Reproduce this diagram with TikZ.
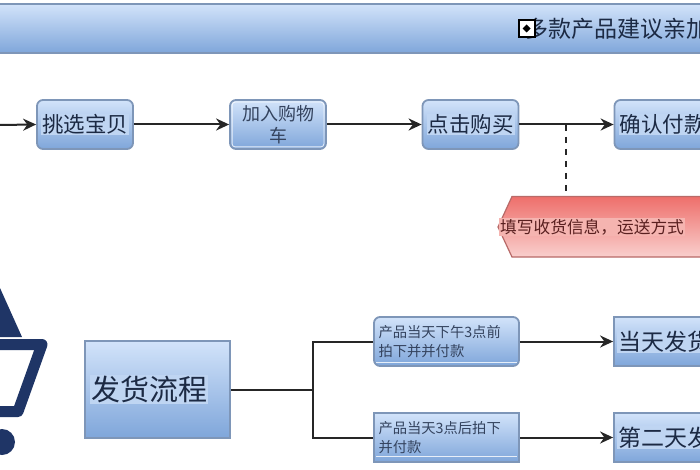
\documentclass[tikz,border=0pt]{standalone}
\usepackage{fontspec}
\setmainfont{Noto Sans CJK SC}
\usetikzlibrary{arrows.meta,calc}
\definecolor{edgeblue}{HTML}{7E96B8}
\definecolor{topblue}{HTML}{D2E3FA}
\definecolor{botblue}{HTML}{7FA6DA}
\definecolor{hlblue}{HTML}{BFD5F2}
\definecolor{inkblue}{HTML}{1C2A44}
\definecolor{softink}{HTML}{34435E}
\definecolor{navy}{HTML}{1F3566}
\definecolor{topred}{HTML}{EE6F6B}
\definecolor{botred}{HTML}{F9CFCD}
\definecolor{edgered}{HTML}{B86A68}
\definecolor{hlred}{HTML}{F5B4B0}
\definecolor{inkred}{HTML}{5A2020}
\newcommand{\hlb}[1]{{\setlength{\fboxsep}{1pt}\colorbox{hlblue}{#1}}}
\newcommand{\hlr}[1]{{\setlength{\fboxsep}{1pt}\colorbox{hlred}{#1}}}
\newcommand{\fsz}[1]{\fontsize{#1}{#1}\selectfont}
\tikzset{
  flowbox/.style={draw=edgeblue,line width=1.8pt,top color=topblue,bottom color=botblue,
    minimum width=96pt,minimum height=49pt,inner sep=0pt,align=center,text=inkblue},
  roundbox/.style={flowbox,rounded corners=6pt},
  smalltext/.style={text=softink,align=left,font=\fsz{14.3},text width=136pt},
  flowline/.style={line width=2pt,black!85},
  flowarrow/.style={flowline,-{Stealth[length=13pt,width=12pt]}},
  gloss/.style={white,line width=0.8pt,opacity=.8}
}
\begin{document}
\begin{tikzpicture}[x=1pt,y=-1pt]
\useasboundingbox (0,0) rectangle (700,470);
\clip (0,0) rectangle (700,470);
\fill[white] (0,0) rectangle (700,470);
% title band
\draw[draw=edgeblue,line width=1.6pt,top color=topblue,bottom color=botblue]
  (-5,4) rectangle (705,53);
\node[anchor=west,inner sep=0pt,text=inkblue,font=\fsz{23}] (title) at (525,29) {多款产品建议亲加};
% small icon in the title
\draw[black,line width=2pt,fill=white] (518.5,20.5) rectangle (534.5,37);
\fill[black] (526.5,24.5) -- (530.5,28.5) -- (526.5,32.5) -- (522.5,28.5) -- cycle;
% top row
\coordinate (start) at (-2,125);
\node[roundbox,font=\fsz{21.5}] (pick) at (85,124.5) {\hlb{挑选宝贝}};
\node[roundbox,font=\fsz{18},text=softink] (cart) at (278,124.5) {加入购物\\[4pt]车};
\node[roundbox,font=\fsz{21.5}] (buy) at (470.5,124.5) {\hlb{点击购买}};
\node[roundbox,font=\fsz{21.5}] (pay) at (662.5,124.5) {\hlb{确认付款}};
\draw[gloss,rounded corners=3pt] ($(cart.south west)+(3,-3)$) rectangle ($(cart.north east)+(-3,3)$);
\draw[flowarrow] (start) -- (pick.west);
\draw[flowarrow] (pick.east) -- (cart.west);
\draw[flowarrow] (cart.east) -- (buy.west);
\draw[flowarrow] (buy.east) -- (pay.west);
% note
\draw[draw=edgered,line width=1.2pt,top color=topred,bottom color=botred]
  (498,227) -- (512,196.5) -- (710,196.5) -- (710,257) -- (512,257) -- cycle;
\node[inner sep=0pt,text=inkred,font=\fsz{16.7},anchor=west] (note) at (499,227) {\hlr{填写收货信息，运送方式}};
\coordinate (dashtop) at (566,125);
\coordinate (dashend) at (566,192);
\draw[line width=2pt,black!85,dash pattern=on 6pt off 6pt] (dashtop) -- (dashend);
% cart icon
\fill[navy] (0,288) -- (22,337) -- (-2,337) -- cycle;
\draw[navy,line width=11pt,line join=round,line cap=round] (-6,344.5) -- (42,344.5) -- (18,411.5) -- (-6,411.5);
\fill[navy] (2,442) circle (13pt);
% shipping
\node[flowbox,minimum width=145pt,minimum height=97pt,font=\fsz{29},text width=135pt,align=left] (ship) at (157.5,389.5) {\hlb{发货流程}};
\node[roundbox,minimum width=145pt,smalltext] (late) at (446.5,341.5) {产品当天下午3点前\\[5pt]拍下并并付款};
\node[flowbox,minimum width=145pt,smalltext] (next) at (446.5,437.5) {产品当天3点后拍下\\[5pt]并付款};
\draw[gloss] ($(late.south west)+(3,-5)$) -- ($(late.south east)+(-3,-5)$);
\draw[gloss] ($(next.south west)+(3,-7)$) -- ($(next.south east)+(-3,-7)$);
\node[flowbox,minimum width=130pt,font=\fsz{23},text width=124pt,align=left] (today) at (679,341.5) {\hlb{当天发货}};
\node[flowbox,minimum width=130pt,font=\fsz{23},text width=124pt,align=left] (tomorrow) at (679,437.5) {\hlb{第二天发货}};
\coordinate (bus) at (313,389.5);
\coordinate (bustop) at (313,341.5);
\coordinate (busbot) at (313,437.5);
\draw[flowline] (ship.east) -- (bus);
\draw[flowline] (late.west) -- (bustop) -- (busbot) -- (next.west);
\draw[flowarrow] (late.east) -- (today.west);
\draw[flowarrow] (next.east) -- (tomorrow.west);
\end{tikzpicture}
\end{document}
